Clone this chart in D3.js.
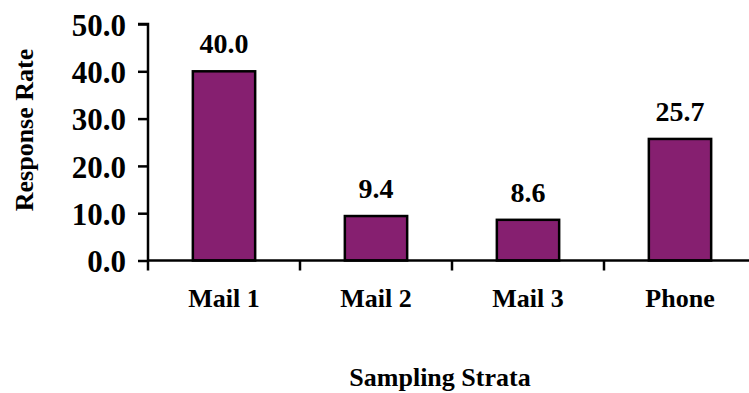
<!DOCTYPE html>
<html><head><meta charset="utf-8">
<script src="https://cdn.jsdelivr.net/npm/d3@7/dist/d3.min.js"></script>
<style>
html,body{margin:0;padding:0;background:#fff;overflow:hidden}
text{font-family:"Liberation Serif","Times New Roman",serif;font-weight:bold;fill:#000}
</style></head>
<body>
<svg id="chart" width="749" height="393"></svg>
<script>
const categories = ["Mail 1", "Mail 2", "Mail 3", "Phone"];
const responseRate = [40.0, 9.4, 8.6, 25.7];
const yTicks = [0, 10, 20, 30, 40, 50];
const yTitle = "Response Rate";
const xTitle = "Sampling Strata";

const svg = d3.select("#chart");
const plotLeft = 148, plotRight = 756, plotTop = 24, plotBottom = 260.5;

const x = d3.scaleBand().domain(categories).range([plotLeft, plotRight]).paddingInner(0.59).paddingOuter(0.295);
const xTicksScale = d3.scaleBand().domain(categories).range([plotLeft, plotRight]);
const y = d3.scaleLinear().domain([0, 50]).range([plotBottom, plotTop]);

// bars
svg.selectAll("rect.bar").data(categories).enter().append("rect")
  .attr("class", "bar")
  .attr("x", d => x(d))
  .attr("width", x.bandwidth())
  .attr("y", (d, i) => y(responseRate[i]))
  .attr("height", (d, i) => y(0) - y(responseRate[i]))
  .attr("fill", "#861F70")
  .attr("stroke", "#000")
  .attr("stroke-width", 2.5);

// y axis
const yAxis = d3.axisLeft(y).tickValues(yTicks).tickSize(10).tickPadding(12).tickFormat(d3.format(".1f"));
const gy = svg.append("g").attr("transform", `translate(${plotLeft},0)`).call(yAxis);
gy.select(".domain").attr("stroke", "#000").attr("stroke-width", 2.5).attr("d", `M-10,${plotTop}H0V${plotBottom}`);
gy.selectAll(".tick line").attr("stroke", "#000").attr("stroke-width", 2.5);
gy.selectAll(".tick text").style("font-size", "31px").style("font-family", "'Liberation Serif',serif").style("font-weight", "bold").attr("dy", "0.36em");

// x axis
const gx = svg.append("g").attr("transform", `translate(0,${plotBottom})`);
gx.append("line").attr("x1", plotLeft).attr("x2", plotRight).attr("stroke", "#000").attr("stroke-width", 2.5);
gx.selectAll("line.tk").data(categories.concat(["_end"])).enter().append("line")
  .attr("class", "tk")
  .attr("x1", (d, i) => plotLeft + i * xTicksScale.step())
  .attr("x2", (d, i) => plotLeft + i * xTicksScale.step())
  .attr("y1", 0).attr("y2", 10)
  .attr("stroke", "#000").attr("stroke-width", 2.5);
gx.selectAll("text.cat").data(categories).enter().append("text")
  .attr("class", "cat")
  .attr("x", d => xTicksScale(d) + xTicksScale.bandwidth() / 2)
  .attr("y", 46)
  .attr("text-anchor", "middle")
  .style("font-size", "26px")
  .text(d => d);

// data labels
svg.selectAll("text.val").data(categories).enter().append("text")
  .attr("class", "val")
  .attr("x", d => x(d) + x.bandwidth() / 2)
  .attr("y", (d, i) => y(responseRate[i]) - 18)
  .attr("text-anchor", "middle")
  .style("font-size", "28px")
  .text((d, i) => d3.format(".1f")(responseRate[i]));

// titles
svg.append("text")
  .attr("transform", "translate(33,130) rotate(-90)")
  .attr("text-anchor", "middle")
  .style("font-size", "26px")
  .text(yTitle);
svg.append("text")
  .attr("x", 440).attr("y", 386)
  .attr("text-anchor", "middle")
  .style("font-size", "26px")
  .text(xTitle);
</script>
</body></html>
